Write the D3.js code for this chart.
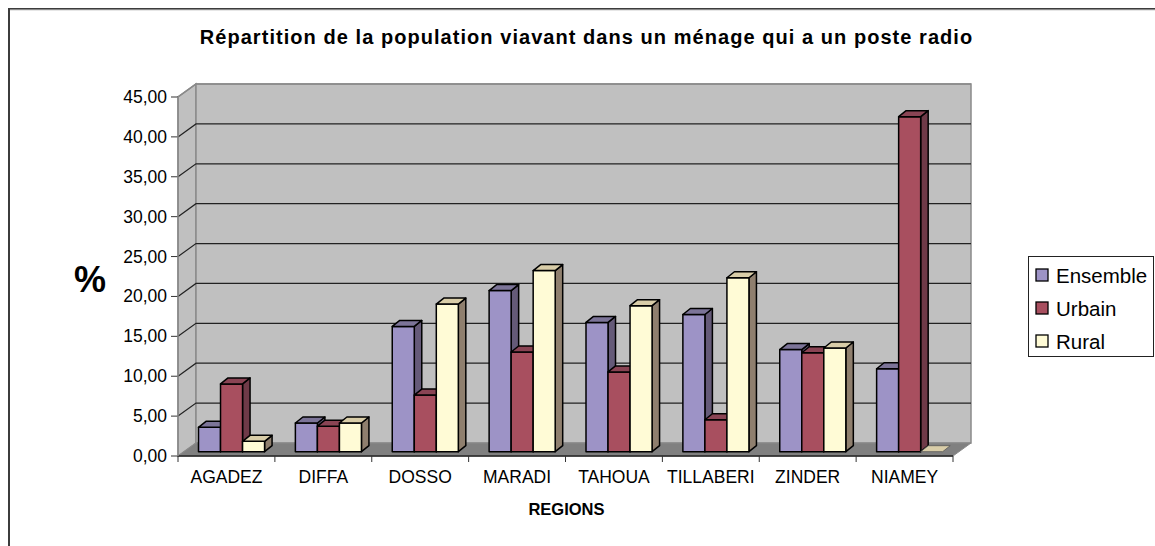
<!DOCTYPE html>
<html><head><meta charset="utf-8">
<script src="https://cdnjs.cloudflare.com/ajax/libs/d3/7.8.5/d3.min.js"></script>
<style>html,body{margin:0;padding:0;background:#fff}svg{display:block}text{font-family:"Liberation Sans",Arial,sans-serif;fill:#000}</style>
</head><body><svg id="c" width="1155" height="546"></svg>
<script>
const chartTitle="Répartition de la population viavant dans un ménage qui a un poste radio";
const categories=["AGADEZ","DIFFA","DOSSO","MARADI","TAHOUA","TILLABERI","ZINDER","NIAMEY"];
const seriesNames=["Ensemble","Urbain","Rural"];
const ensemble=[3.05,3.6,15.7,20.2,16.2,17.2,12.8,10.4];
const urbain=[8.5,3.2,7.1,12.5,10,4,12.4,42];
const rural=[1.3,3.6,18.5,22.7,18.3,21.8,13,0];
const seriesValues=[ensemble,urbain,rural];
const yTicks=[0,5,10,15,20,25,30,35,40,45];
const colors={front:["#9D93C6","#A84F5F","#FFFBD6"],top:["#7C7498","#8A4454","#D9CDA8"],side:["#655A78","#6F3A48","#8F7F6E"]};

const svg=d3.select("#c");
const x=d3.scaleBand().domain(categories).range([178,953]).paddingInner(0.318).paddingOuter(0.159);
const xs=d3.scaleBand().domain(seriesNames).range([0,x.bandwidth()]);
const y=d3.scaleLinear().domain([0,45]).range([456,97]);
const fmt=v=>d3.format(".2f")(v).replace(".",",");
const dx=18,dy=-13,bdx=5.1,bdy=-4.3,sdx=7.5,sdy=-6;
const x0=x.range()[0],x1=x.range()[1];
const wallStroke="#8a8a8a";
const pts=a=>a.map(p=>p.join(",")).join(" ");

// frame
svg.append("path").attr("d","M9,546V9H1155").attr("fill","none").attr("stroke","#3c3c3c").attr("stroke-width",2);
svg.append("line").attr("x1",10).attr("x2",1155).attr("y1",9.8).attr("y2",9.8).attr("stroke","#aaa").attr("stroke-width",1);

// walls
svg.append("polygon").attr("points",pts([[x0,y(0)],[x0+dx,y(0)+dy],[x0+dx,y(45)+dy],[x0,y(45)]])).attr("fill","#c0c0c0").attr("stroke",wallStroke).attr("stroke-width",1.5);
svg.append("polygon").attr("points",pts([[x0+dx,y(0)+dy],[x1+dx,y(0)+dy],[x1+dx,y(45)+dy],[x0+dx,y(45)+dy]])).attr("fill","#c0c0c0").attr("stroke",wallStroke).attr("stroke-width",1.5);
svg.append("polygon").attr("points",pts([[x0,y(0)],[x1,y(0)],[x1+dx,y(0)+dy],[x0+dx,y(0)+dy]])).attr("fill","#808080").attr("stroke",wallStroke).attr("stroke-width",1);

// gridlines
yTicks.filter(t=>t>0).forEach(t=>{
  svg.append("path").attr("d",`M${x0},${y(t)}L${x0+dx},${y(t)+dy}H${x1+dx}`).attr("fill","none").attr("stroke",t===45?wallStroke:"#222").attr("stroke-width",t===45?1.5:1.2);
});

// bars
categories.forEach((c,i)=>{
  seriesNames.forEach((s,j)=>{
    const v=seriesValues[j][i];
    const l=x(c)+xs(s)+bdx, r=l+xs.bandwidth(), b=y(0)+bdy, t=y(v)+bdy;
    const g=svg.append("g").attr("stroke",v===0?"#555":"#000").attr("stroke-width",v===0?.8:1.5).attr("stroke-linejoin","round");
    if(v>0){
      g.append("polygon").attr("points",pts([[r,t],[r+sdx,t+sdy],[r+sdx,b+sdy],[r,b]])).attr("fill",colors.side[j]);
      g.append("rect").attr("x",l).attr("y",t).attr("width",r-l).attr("height",b-t).attr("fill",colors.front[j]);
    }
    g.append("polygon").attr("points",pts([[l,t],[l+sdx,t+sdy],[r+sdx,t+sdy],[r,t]])).attr("fill",colors.top[j]);
  });
});

// axes
const xAxisG=svg.append("g");
xAxisG.append("line").attr("x1",x0).attr("x2",x1).attr("y1",y(0)).attr("y2",y(0)).attr("stroke","#222").attr("stroke-width",1.5);
d3.range(categories.length+1).forEach(i=>{
  const px=x0+i*x.step();
  xAxisG.append("line").attr("x1",px).attr("x2",px).attr("y1",y(0)).attr("y2",y(0)+6).attr("stroke","#333").attr("stroke-width",1);
});
categories.forEach(c=>{
  svg.append("text").attr("x",x(c)+x.bandwidth()/2).attr("y",483).attr("text-anchor","middle").style("font-size","17.5px").text(c);
});
yTicks.forEach(t=>{
  svg.append("line").attr("x1",x0-7).attr("x2",x0).attr("y1",y(t)).attr("y2",y(t)).attr("stroke","#333").attr("stroke-width",1);
  svg.append("text").attr("x",167).attr("y",y(t)+6).attr("text-anchor","end").style("font-size","17.5px").text(fmt(t));
});
svg.append("line").attr("x1",x0).attr("x2",x0).attr("y1",y(45)).attr("y2",y(0)).attr("stroke",wallStroke).attr("stroke-width",1.5);

// titles
svg.append("text").attr("x",586.5).attr("y",44).attr("text-anchor","middle").style("font-size","20px").style("font-weight","bold").style("letter-spacing","1.05px").text(chartTitle);
svg.append("text").attr("x",566.5).attr("y",515).attr("text-anchor","middle").style("font-size","16.5px").style("font-weight","bold").text("REGIONS");
svg.append("text").attr("x",90).attr("y",292).attr("text-anchor","middle").style("font-size","36px").style("font-weight","bold").text("%");

// legend
svg.append("rect").attr("x",1028.5).attr("y",256.5).attr("width",125).attr("height",100).attr("fill","#fff").attr("stroke","#222").attr("stroke-width",1);
seriesNames.forEach((s,j)=>{
  const cy=275+j*33;
  svg.append("rect").attr("x",1036).attr("y",cy-6).attr("width",12).attr("height",12).attr("fill",colors.front[j]).attr("stroke","#000").attr("stroke-width",1.3);
  svg.append("text").attr("x",1056).attr("y",cy+7.5).style("font-size","20.5px").text(s);
});
</script></body></html>
